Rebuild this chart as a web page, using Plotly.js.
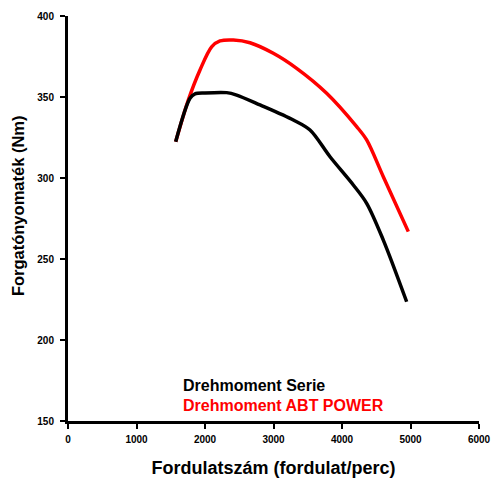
<!DOCTYPE html>
<html>
<head>
<meta charset="utf-8">
<script src="https://cdn.plot.ly/plotly-3.0.1.min.js"></script>
<style>html,body{margin:0;padding:0;background:#fff;}#chart{width:494px;height:481px;}</style>
</head>
<body>
<div id="chart"></div>
<script>
const serieRpm = [1572, 1781, 1854, 2000, 2317, 2462, 2803, 3289, 3533, 3825, 4165, 4360, 4603, 4944];
const serieNm  = [322.4, 349.2, 351.9, 352.5, 352.7, 351.2, 345.1, 335.8, 329.6, 313.1, 295.7, 284.4, 261.7, 223.6];
const abtRpm = [1572, 1756, 1927, 2097, 2219, 2414, 2657, 2997, 3338, 3776, 4214, 4360, 4603, 4968];
const abtNm  = [322.4, 348.1, 366.7, 381.0, 384.6, 385.2, 383.5, 377.0, 367.7, 352.3, 331.7, 323.5, 300.8, 266.9];
const seriesNames = ["Drehmoment Serie", "Drehmoment ABT POWER"];
const xTicks = [0, 1000, 2000, 3000, 4000, 5000, 6000];
const yTicks = [150, 200, 250, 300, 350, 400];
const xTitle = "Fordulatszám (fordulat/perc)";
const yTitle = "Forgatónyomaték (Nm)";

const F = "Liberation Sans, Arial, sans-serif";
const traces = [
  {x: abtRpm, y: abtNm, mode: "lines", name: seriesNames[1], line: {color: "#ff0000", width: 3.5, shape: "spline", smoothing: 0.9}},
  {x: serieRpm, y: serieNm, mode: "lines", name: seriesNames[0], line: {color: "#000000", width: 3.5, shape: "spline", smoothing: 0.9}}
];
const layout = {
  width: 494, height: 481,
  margin: {l: 68, r: 15, t: 16, b: 60},
  paper_bgcolor: "#fff", plot_bgcolor: "#fff",
  showlegend: false,
  xaxis: {
    range: [0, 6000], tickvals: xTicks, ticktext: xTicks.map(String),
    showgrid: false, zeroline: false, showline: true, linecolor: "#000", linewidth: 3,
    ticks: "outside", ticklen: 5, tickwidth: 2, tickcolor: "#000", ticklabelstandoff: 2,
    tickfont: {family: F, size: 10, color: "#000", weight: "bold"},
    title: {text: xTitle, font: {family: F, size: 18, color: "#000", weight: "bold"}, standoff: 18}
  },
  yaxis: {
    range: [150, 400], tickvals: yTicks, ticktext: yTicks.map(String),
    showgrid: false, zeroline: false, showline: true, linecolor: "#000", linewidth: 3,
    ticks: "outside", ticklen: 5, tickwidth: 2, tickcolor: "#000", ticklabelstandoff: 4,
    tickfont: {family: F, size: 10, color: "#000", weight: "bold"}
  },
  annotations: [
    {xref: "paper", yref: "paper", x: -0.1217, y: 0.533, xanchor: "center", yanchor: "middle", textangle: -90, showarrow: false, text: yTitle, font: {family: F, size: 16.5, color: "#000", weight: "bold"}},
    {xref: "x", yref: "y", x: 1650, y: 172.2, xanchor: "left", yanchor: "middle", showarrow: false, text: seriesNames[0], font: {family: F, size: 16, color: "#000", weight: "bold"}},
    {xref: "x", yref: "y", x: 1650, y: 159.7, xanchor: "left", yanchor: "middle", showarrow: false, text: seriesNames[1], font: {family: F, size: 16, color: "#ff0000", weight: "bold"}}
  ]
};
Plotly.newPlot("chart", traces, layout, {displayModeBar: false, staticPlot: true});
</script>
</body>
</html>
